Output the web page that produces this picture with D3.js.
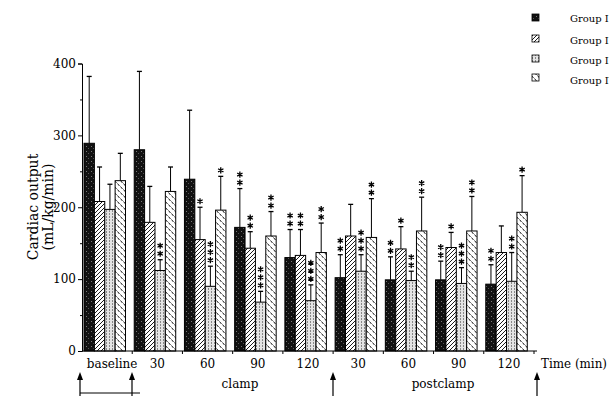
<!DOCTYPE html>
<html>
<head>
<meta charset="utf-8">
<script src="https://cdn.jsdelivr.net/npm/d3@7"></script>
<style>
  body { margin: 0; background: #fff; }
  svg { display: block; font-family: 'DejaVu Serif', serif; }
</style>
</head>
<body>
<div id="chart"></div>
<script>
// time points (x categories)
const timeLabels = ['baseline', '30', '60', '90', '120', '30', '60', '90', '120'];
const groupNames = ['Group I', 'Group II', 'Group III', 'Group IV'];

// means
const group1 = [289, 280, 239, 172, 130, 102, 99, 99, 93];
const group2 = [208, 179, 155, 143, 133, 160, 142, 144, 137];
const group3 = [197, 112, 90, 68, 70, 111, 98, 94, 97];
const group4 = [237, 222, 196, 160, 137, 158, 167, 167, 193];

// SD (upper error bar only)
const sd1 = [93, 109, 96, 54, 39, 32, 32, 26, 27];
const sd2 = [48, 50, 45, 23, 36, 44, 31, 21, 37];
const sd3 = [35, 15, 28, 15, 22, 23, 13, 22, 40];
const sd4 = [38, 34, 47, 34, 41, 54, 47, 48, 51];

// number of significance stars above each bar
const stars1 = [0, 0, 0, 2, 2, 2, 2, 2, 2];
const stars2 = [0, 0, 1, 2, 2, 0, 1, 1, 0];
const stars3 = [0, 2, 3, 3, 3, 3, 2, 3, 2];
const stars4 = [0, 0, 1, 2, 2, 2, 2, 2, 1];

const yTicks = [0, 100, 200, 300, 400];

const width = 609, height = 396;
const svg = d3.select('#chart').append('svg')
  .attr('width', width)
  .attr('height', height);

// fill patterns
const defs = svg.append('defs');
const p1 = defs.append('pattern').attr('id', 'pat0').attr('patternUnits', 'userSpaceOnUse')
  .attr('width', 5).attr('height', 5);
p1.append('rect').attr('width', 5).attr('height', 5).attr('fill', '#111');
p1.append('rect').attr('x', 1).attr('y', 1).attr('width', 1).attr('height', 1).attr('fill', '#777');
p1.append('rect').attr('x', 3).attr('y', 3).attr('width', 1).attr('height', 1).attr('fill', '#555');

const p2 = defs.append('pattern').attr('id', 'pat1').attr('patternUnits', 'userSpaceOnUse')
  .attr('width', 4).attr('height', 4);
p2.append('rect').attr('width', 4).attr('height', 4).attr('fill', '#fff');
p2.append('path').attr('d', 'M0,4 L4,0 M-1,1 L1,-1 M3,5 L5,3')
  .attr('stroke', '#000').attr('stroke-width', 0.9);

const p3 = defs.append('pattern').attr('id', 'pat2').attr('patternUnits', 'userSpaceOnUse')
  .attr('width', 3).attr('height', 3);
p3.append('rect').attr('width', 3).attr('height', 3).attr('fill', '#e4e4e4');
p3.append('rect').attr('x', 1).attr('width', 1).attr('height', 2).attr('fill', '#888');

const p4 = defs.append('pattern').attr('id', 'pat3').attr('patternUnits', 'userSpaceOnUse')
  .attr('width', 6).attr('height', 6);
p4.append('rect').attr('width', 6).attr('height', 6).attr('fill', '#fff');
p4.append('path').attr('d', 'M0.5,0.5 L2.5,3 M3.5,3.5 L5.5,6')
  .attr('stroke', '#000').attr('stroke-width', 0.9);

// scales
const x = d3.scaleBand().domain(d3.range(timeLabels.length)).range([82, 534]);
const xInner = d3.scaleBand().domain(d3.range(4)).range([2, 43.5]);
const y = d3.scaleLinear().domain([0, 400]).range([351, 63.5]);

const means = [group1, group2, group3, group4];
const sds = [sd1, sd2, sd3, sd4];
const stars = [stars1, stars2, stars3, stars4];

const rows = [];
timeLabels.forEach((t, i) => {
  for (let g = 0; g < 4; g++) {
    rows.push({ t: i, g: g, v: means[g][i], sd: sds[g][i], s: stars[g][i] });
  }
});

// error bars (upper only)
const eb = svg.append('g').selectAll('g').data(rows).join('g')
  .attr('transform', d => `translate(${x(d.t) + xInner(d.g) + xInner.bandwidth() / 2},0)`);
eb.append('line')
  .attr('y1', d => y(d.v)).attr('y2', d => y(d.v + d.sd))
  .attr('stroke', '#000').attr('stroke-width', 1);
eb.append('line')
  .attr('x1', -2.5).attr('x2', 2.5)
  .attr('y1', d => y(d.v + d.sd)).attr('y2', d => y(d.v + d.sd))
  .attr('stroke', '#000').attr('stroke-width', 1.3);

// stars drawn as symbols
const star = d3.symbol().type(d3.symbolAsterisk).size(26);
eb.each(function(d) {
  for (let k = 0; k < d.s; k++) {
    d3.select(this).append('path')
      .attr('transform', `translate(0,${y(d.v + d.sd) - 6 - k * 8})`)
      .attr('d', star)
      .attr('fill', 'none')
      .attr('stroke', '#000')
      .attr('stroke-width', 1.3);
  }
});

// bars
svg.append('g').selectAll('rect').data(rows).join('rect')
  .attr('x', d => x(d.t) + xInner(d.g))
  .attr('y', d => y(d.v))
  .attr('width', xInner.bandwidth())
  .attr('height', d => y(0) - y(d.v))
  .attr('fill', d => `url(#pat${d.g})`)
  .attr('stroke', '#000')
  .attr('stroke-width', 1);

// y axis
const yAxis = svg.append('g').attr('transform', 'translate(82,0)')
  .call(d3.axisLeft(y).tickValues(yTicks).tickSize(4).tickPadding(2));
svg.append('g').attr('transform', 'translate(82,0)')
  .call(d3.axisLeft(y).tickValues([50, 150, 250, 350]).tickSize(2).tickFormat(''))
  .select('.domain').remove();
yAxis.selectAll('text').style('font-family', 'DejaVu Serif').style('font-size', '12px');

// x axis
const xAxis = svg.append('g').attr('transform', 'translate(0,351)')
  .call(d3.axisBottom(x).tickSize(0).tickPadding(8).tickFormat(i => timeLabels[i]));
xAxis.select('.domain').attr('d', 'M82,0H537');
xAxis.selectAll('text').style('font-family', 'DejaVu Serif').style('font-size', '12px')
  .attr('dx', i => i === 0 ? 5 : 0);
xAxis.selectAll('.sep').data(d3.range(1, timeLabels.length + 1)).join('line')
  .attr('class', 'sep')
  .attr('x1', i => x.step() * i + 82).attr('x2', i => x.step() * i + 82)
  .attr('y1', 0).attr('y2', 3)
  .attr('stroke', '#000');

svg.append('text').attr('x', 541).attr('y', 368)
  .attr('textLength', 66).attr('lengthAdjust', 'spacingAndGlyphs')
  .style('font-size', '12px').text('Time (min)');

// phase labels and arrows
svg.append('text').attr('x', 240).attr('y', 388).attr('text-anchor', 'middle')
  .style('font-size', '12px').text('clamp');
svg.append('text').attr('x', 443).attr('y', 388).attr('text-anchor', 'middle')
  .style('font-size', '12px').text('postclamp');

[80, 132, 333, 537].forEach(ax => {
  svg.append('line').attr('x1', ax).attr('x2', ax).attr('y1', 375).attr('y2', 396)
    .attr('stroke', '#000').attr('stroke-width', 1.2);
  svg.append('path').attr('d', `M${ax - 3},380 L${ax},372 L${ax + 3},380 Z`).attr('fill', '#000');
});
svg.append('line').attr('x1', 80).attr('x2', 140).attr('y1', 393).attr('y2', 393)
  .attr('stroke', '#000').attr('stroke-width', 1);

// y title
svg.append('text').attr('transform', 'translate(38,207) rotate(-90)')
  .attr('text-anchor', 'middle').style('font-size', '14px').text('Cardiac output');
svg.append('text').attr('transform', 'translate(53,207) rotate(-90)')
  .attr('text-anchor', 'middle').style('font-size', '14px').text('(mL/kg/min)');

// legend
const swY = [14, 35, 55, 74];
const txY = [18, 40, 60, 80];
groupNames.forEach((name, g) => {
  svg.append('rect').attr('x', 532).attr('y', swY[g]).attr('width', 7).attr('height', 7)
    .attr('fill', `url(#pat${g})`).attr('stroke', '#000').attr('stroke-width', 0.8);
  svg.append('text').attr('x', 570).attr('y', txY[g]).attr('dy', '0.35em')
    .style('font-size', '10px').text(name);
});
</script>
</body>
</html>
